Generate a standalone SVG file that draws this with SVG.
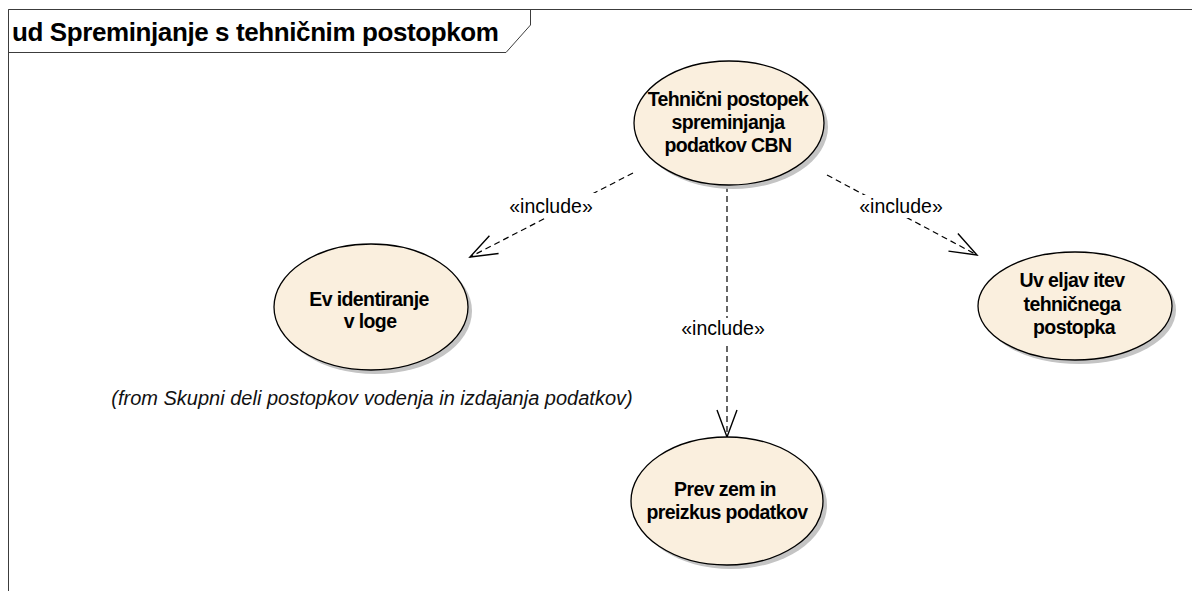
<svg xmlns="http://www.w3.org/2000/svg" width="1192" height="591" viewBox="0 0 1192 591">
  <style>
    .frame { fill: none; stroke: #3c3c3c; stroke-width: 1; }
    .title { font-family: "Liberation Sans", Arial, sans-serif; font-weight: bold; font-size: 26px; letter-spacing: -0.4px; fill: #000; }
    .uc { fill: #FAEFDE; stroke: #000; stroke-width: 1.3; }
    .shadow { fill: #c4c4c4; stroke: none; }
    .label { font-family: "Liberation Sans", Arial, sans-serif; font-weight: bold; font-size: 19.5px; letter-spacing: -0.6px; fill: #000; text-anchor: middle; }
    .stereo { font-family: "Liberation Sans", Arial, sans-serif; font-size: 19.5px; fill: #000; text-anchor: middle; }
    .note { font-family: "Liberation Sans", Arial, sans-serif; font-style: italic; font-size: 20px; fill: #111; text-anchor: middle; }
    .dep { fill: none; stroke: #000; stroke-width: 1.2; stroke-dasharray: 6 4; marker-end: url(#open); }
    .mask { fill: #fff; stroke: none; }
  </style>
  <defs>
    <marker id="open" markerUnits="userSpaceOnUse" viewBox="-30 -14 32 28" markerWidth="32" markerHeight="28" refX="0" refY="0" orient="auto" overflow="visible">
      <path d="M-27,-10 L0,0 L-27,10" fill="none" stroke="#000" stroke-width="1.4" stroke-dasharray="none"/>
    </marker>
  </defs>

  <rect width="1192" height="591" fill="#fff"/>

  <!-- diagram frame with its name tab -->
  <g id="frame">
    <path class="frame" d="M8.5,591 V9.5 H1192"/>
    <path class="frame" d="M8.5,9.5 H530.5 V25 L506,52.5 H8.5"/>
    <text class="title" x="12" y="41">ud Spreminjanje s tehničnim postopkom</text>
  </g>

  <!-- include dependencies -->
  <g id="connectors">
    <line class="dep" x1="633" y1="173" x2="470" y2="257"/>
    <line class="dep" x1="827" y1="175" x2="977" y2="255"/>
    <line class="dep" x1="727" y1="186" x2="727" y2="437"/>
    <rect class="mask" x="508" y="193" width="88" height="25"/>
    <text class="stereo" x="551" y="213">«include»</text>
    <rect class="mask" x="857" y="195" width="90" height="23"/>
    <text class="stereo" x="901" y="213">«include»</text>
    <rect class="mask" x="680" y="318" width="88" height="24"/>
    <text class="stereo" x="723" y="335">«include»</text>
  </g>

  <g id="uc-tehnicni-postopek">
    <ellipse class="shadow" cx="733" cy="127" rx="95" ry="62"/>
    <ellipse class="uc" cx="729" cy="123" rx="95" ry="62"/>
    <text class="label" x="728" y="105.5">Tehnični postopek</text>
    <text class="label" x="728" y="128.5">spreminjanja</text>
    <text class="label" x="728" y="152">podatkov  CBN</text>
  </g>

  <g id="uc-evidentiranje-vloge">
    <ellipse class="shadow" cx="375" cy="311" rx="97" ry="63"/>
    <ellipse class="uc" cx="371" cy="307" rx="97" ry="63"/>
    <text class="label" x="369" y="305.5">Ev identiranje</text>
    <text class="label" x="370" y="327.5">v loge</text>
    <text class="note" x="372" y="405">(from Skupni deli postopkov vodenja in izdajanja podatkov)</text>
  </g>

  <g id="uc-uveljavitev">
    <ellipse class="shadow" cx="1079" cy="310" rx="97" ry="54"/>
    <ellipse class="uc" cx="1075" cy="306" rx="97" ry="54"/>
    <text class="label" x="1072" y="287">Uv eljav itev</text>
    <text class="label" x="1072" y="310.5">tehničnega</text>
    <text class="label" x="1074" y="333.5">postopka</text>
  </g>

  <g id="uc-prevzem">
    <ellipse class="shadow" cx="731" cy="505" rx="96" ry="64"/>
    <ellipse class="uc" cx="727" cy="501" rx="96" ry="64"/>
    <text class="label" x="725" y="495.5">Prev zem in</text>
    <text class="label" x="727" y="518.5">preizkus podatkov</text>
  </g>
</svg>
